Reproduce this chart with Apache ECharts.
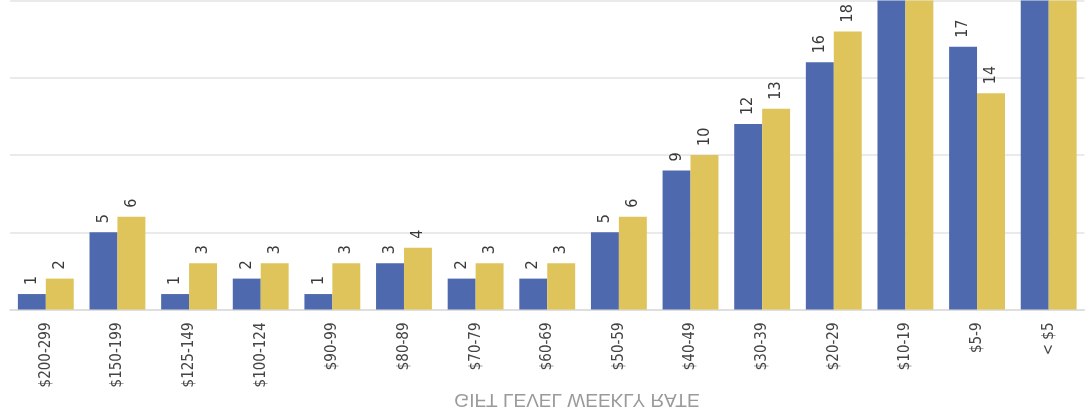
<!DOCTYPE html>
<html>
<head>
<meta charset="utf-8">
<script src="https://cdn.jsdelivr.net/npm/echarts@6/dist/echarts.min.js"></script>
<style>
html,body{margin:0;padding:0;background:#fff;}
#chart{width:1086px;height:415px;}
</style>
</head>
<body>
<div id="chart"></div>
<script>
// Data (the two tallest groups run past the top of the crop)
const categories = ['$200-299','$150-199','$125-149','$100-124','$90-99','$80-89','$70-79','$60-69','$50-59','$40-49','$30-39','$20-29','$10-19','$5-9','< $5'];
const seriesBlue = [1,5,1,2,1,3,2,2,5,9,12,16,22,17,24];
const seriesGold = [2,6,3,3,3,4,3,3,6,10,13,18,23,14,25];
const axisTitle = 'GIFT LEVEL WEEKLY RATE';
const visibleMax = 20; // top of the cropped view

const narrow = "'DejaVu Sans Condensed','Liberation Sans Narrow',sans-serif";

const chart = echarts.init(document.getElementById('chart'), null, {renderer:'canvas'});

const valueLabel = {
  show: true,
  position: 'top',
  distance: 9,
  rotate: 90,
  align: 'left',
  verticalAlign: 'middle',
  color: '#3a3a3a',
  fontFamily: narrow,
  fontSize: 16
};

// bars that run past the top of the view keep their labels out of sight
function toItems(arr) {
  return arr.map(v => v > visibleMax ? { value: v, label: { show: false } } : v);
}

chart.setOption({
  animation: false,
  backgroundColor: '#ffffff',
  grid: { left: 10, right: 1.5, top: 0.5, bottom: 105.5, containLabel: false },
  xAxis: {
    type: 'category',
    data: categories,
    axisLine: { show: true, lineStyle: { color: '#dcdcdc', width: 1.5 } },
    axisTick: { show: false },
    axisLabel: {
      rotate: 90,
      margin: 13,
      color: '#454545',
      fontFamily: narrow,
      fontSize: 15,
      padding: [0, 0, 7, 0],
      interval: 0
    }
  },
  yAxis: {
    type: 'value',
    min: 0,
    max: visibleMax,
    interval: 5,
    axisLine: { show: false },
    axisTick: { show: false },
    axisLabel: { show: false },
    splitLine: { lineStyle: { color: '#e3e3e3', width: 1.5 } }
  },
  series: [
    {
      type: 'bar',
      data: toItems(seriesBlue),
      clip: true,
      barGap: '0%',
      barCategoryGap: '22%',
      itemStyle: { color: '#4f69ae' },
      label: valueLabel
    },
    {
      type: 'bar',
      data: toItems(seriesGold),
      clip: true,
      barGap: '0%',
      barCategoryGap: '22%',
      itemStyle: { color: '#dfc45b' },
      label: valueLabel
    }
  ],
  graphic: [
    {
      type: 'text',
      x: 577,
      y: 399,
      scaleY: -1,
      style: {
        text: axisTitle,
        fill: '#9a9a9a',
        font: "19px 'Liberation Sans', Arial, sans-serif",
        textAlign: 'center',
        textVerticalAlign: 'middle'
      }
    }
  ]
});
</script>
</body>
</html>
